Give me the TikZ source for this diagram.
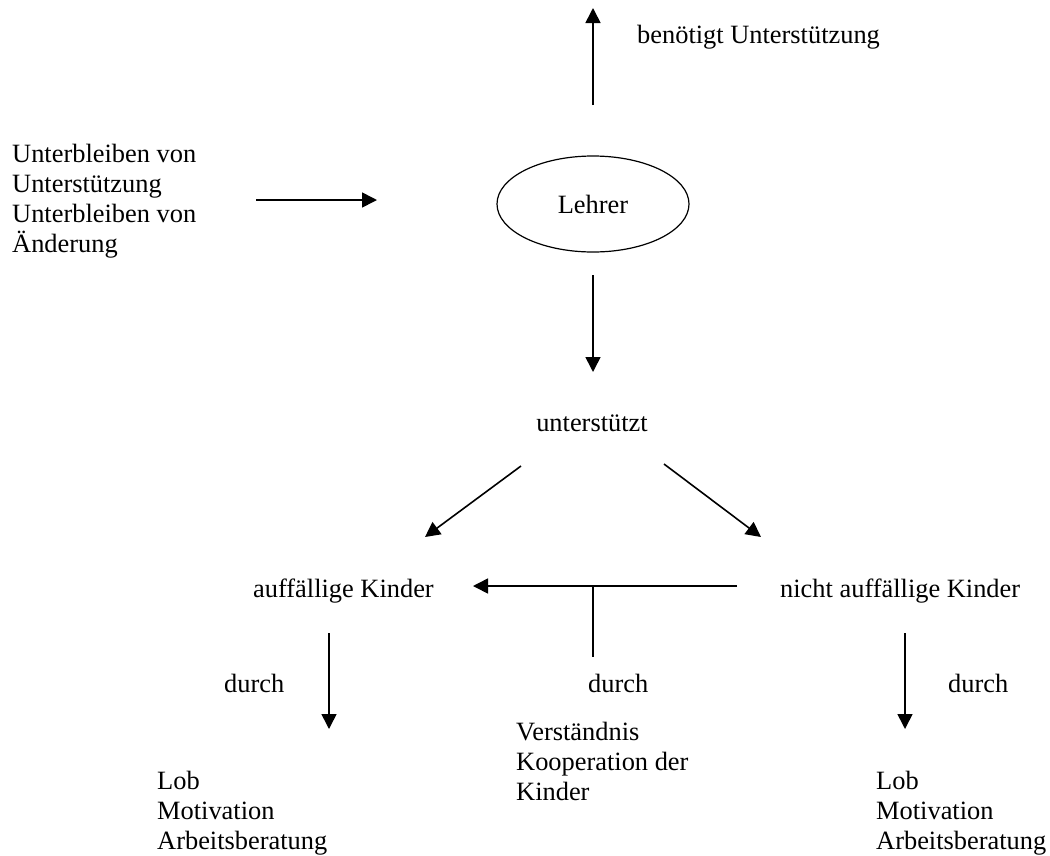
\documentclass[tikz,border=0pt]{standalone}
\usepackage{fontspec}
\setmainfont{Liberation Serif}
\usetikzlibrary{arrows.meta,shapes.geometric}
\begin{document}
\begin{tikzpicture}[x=1pt,y=-1pt,
  txt/.style={inner sep=0pt, font=\fontsize{26.4pt}{30pt}\selectfont},
  lbl/.style={txt, anchor=base west},
  % multi-line blocks: base anchor sits on the last line
  lst/.style={txt, align=left, anchor=base west},
  arr/.style={line width=1.6pt, -{Triangle[length=15pt,width=15pt]}},
  ln/.style={line width=1.6pt}]
\useasboundingbox (0,0) rectangle (1050,855);

% central teacher node
\node[draw, ellipse, line width=1.2pt, minimum width=192pt, minimum height=96pt,
      inner sep=0pt, font=\fontsize{26.4pt}{30pt}\selectfont] (lehrer) at (593,204) {Lehrer};

% text labels
\node[lst] (omit) at (12,252) {Unterbleiben von\\Unterstützung\\Unterbleiben von\\Änderung};
\node[lbl] (need) at (637,43) {benötigt Unterstützung};
\node[txt, anchor=base] (unterst) at (592,431) {unterstützt};
\node[lbl] (auff) at (253,597) {auffällige Kinder};
\node[lbl] (nauff) at (780,597) {nicht auffällige Kinder};
\node[lbl] (durchL) at (224,692) {durch};
\node[lbl] (durchM) at (588,692) {durch};
\node[lbl] (durchR) at (948,692) {durch};
\node[lst] (coop) at (516,800) {Verständnis\\Kooperation der\\Kinder};
\node[lst] (lobL) at (157,849) {Lob\\Motivation\\Arbeitsberatung};
\node[lst] (lobR) at (876,849) {Lob\\Motivation\\Arbeitsberatung};

% arrow end points
\coordinate (upS) at (593,105);  \coordinate (upE) at (593,8);
\coordinate (inS) at (256,200);  \coordinate (inE) at (377,200);
\coordinate (dnS) at (593,275);  \coordinate (dnE) at (593,372);
\coordinate (dlS) at (521,466);  \coordinate (dlE) at (425,537);
\coordinate (drS) at (664,464);  \coordinate (drE) at (761,537);
\coordinate (hS)  at (737,586);  \coordinate (hE)  at (473,586);
\coordinate (tJ)  at (593,586);  \coordinate (tB)  at (593,657);
\coordinate (lS)  at (329,633);  \coordinate (lE)  at (329,729);
\coordinate (rS)  at (905,633);  \coordinate (rE)  at (905,729);

% connectors
\draw[arr] (upS) -- (upE);
\draw[arr] (inS) -- (inE);
\draw[arr] (dnS) -- (dnE);
\draw[arr] (dlS) -- (dlE);
\draw[arr] (drS) -- (drE);
\draw[arr] (hS) -- (hE);
\draw[ln] (tJ) -- (tB);
\draw[arr] (lS) -- (lE);
\draw[arr] (rS) -- (rE);
\end{tikzpicture}
\end{document}
